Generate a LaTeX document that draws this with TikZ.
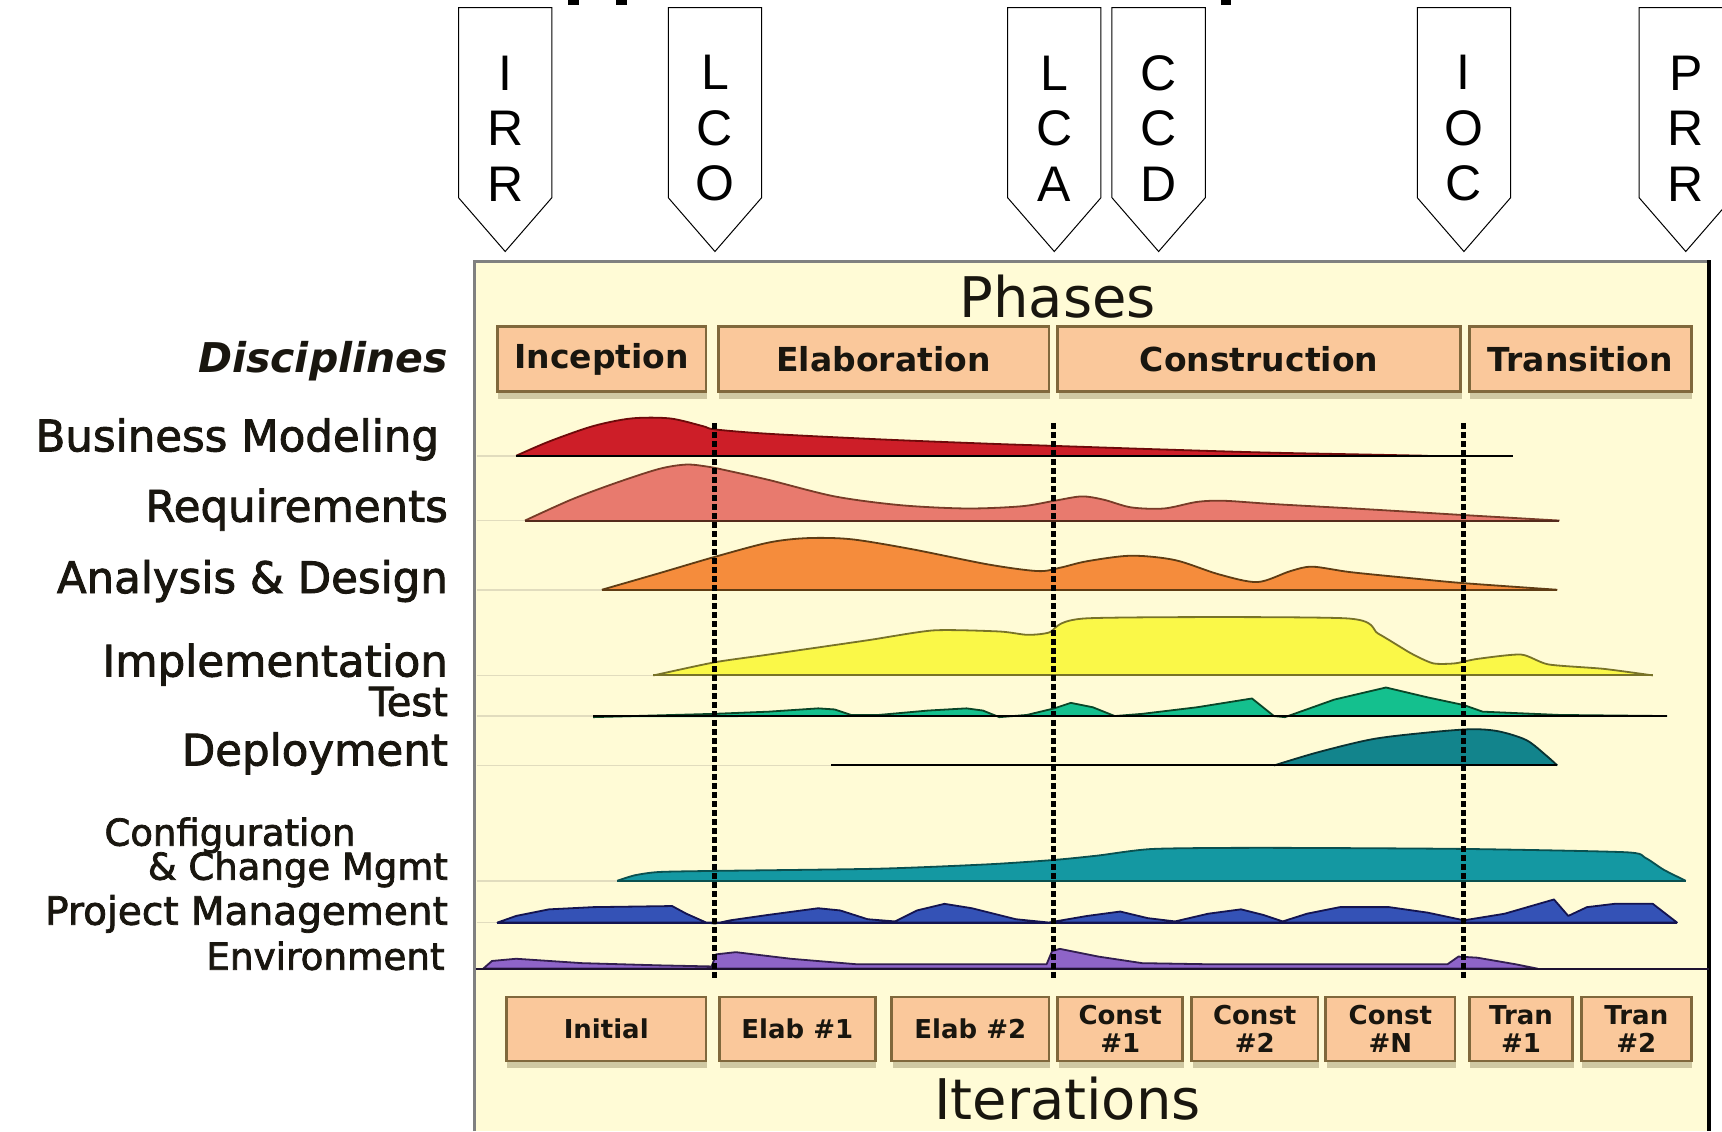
\documentclass[tikz,border=0pt]{standalone}
\usepackage{fontspec}
\setmainfont{DejaVu Sans}
\newfontfamily\flagfont{Liberation Sans}
\newfontfamily\labelfont[FakeBold=2]{DejaVu Sans}
\usetikzlibrary{shadows}

\definecolor{panelbg}{RGB}{255,251,214}
\definecolor{peach}{RGB}{250,200,155}
\definecolor{boxedge}{RGB}{128,104,60}
\definecolor{shadowc}{RGB}{150,140,100}
\definecolor{textdark}{RGB}{25,22,15}
\definecolor{guidec}{RGB}{225,220,190}
\definecolor{bmfill}{RGB}{205,30,40}
\definecolor{bmline}{RGB}{110,10,10}
\definecolor{reqfill}{RGB}{232,122,110}
\definecolor{reqline}{RGB}{120,60,40}
\definecolor{adfill}{RGB}{245,140,60}
\definecolor{adline}{RGB}{95,60,20}
\definecolor{impfill}{RGB}{250,248,72}
\definecolor{impline}{RGB}{120,115,40}
\definecolor{testfill}{RGB}{20,192,142}
\definecolor{testline}{RGB}{10,70,40}
\definecolor{depfill}{RGB}{18,132,140}
\definecolor{depline}{RGB}{10,50,50}
\definecolor{cfgfill}{RGB}{20,152,162}
\definecolor{cfgline}{RGB}{10,80,80}
\definecolor{pmfill}{RGB}{52,82,182}
\definecolor{pmline}{RGB}{20,20,80}
\definecolor{envfill}{RGB}{142,100,200}
\definecolor{envline}{RGB}{50,30,80}

\newcommand\du{1.0982pt}

\tikzset{
  flagline/.style={draw=black, line width=1pt, fill=white},
  flagtext/.style={font=\flagfont\fontsize{50}{55.5}\selectfont, align=center, inner sep=0pt},
  disc/.style={anchor=base east, inner sep=0pt, text=textdark, font=\labelfont\fontsize{43.5}{46}\selectfont},
  phasebox/.style={draw=boxedge, line width=2.6pt, fill=peach,
    drop shadow={shadow xshift=1pt, shadow yshift=-7pt, fill=shadowc, opacity=0.45},
    text=textdark, font=\bfseries\fontsize{33}{36}\selectfont, minimum height=59*\du},
  iterbox/.style={phasebox, font=\bfseries\fontsize{26}{28}\selectfont, align=center, minimum height=58*\du},
  milestone/.style={line width=5pt, dash pattern=on 6pt off 3pt},
  guide/.style={draw=guidec, line width=1.5pt},
  laneline/.style={draw=black, line width=2pt},
  hump/.style={line width=1.8pt, line join=round},
}

% one milestone flag: name, centre x, stacked letters
\newcommand\milestoneflag[3]{%
  \path[flagline] (#2-42.5,7) -- (#2+42.5,7) -- (#2+42.5,180) -- (#2,229) -- (#2-42.5,180) -- cycle;
  \node[flagtext] (#1) at (#2,117) {#3};
}

\begin{document}
\begin{tikzpicture}[x=\du,y=-\du]
\useasboundingbox (0,0) rectangle (1568,1030);
\clip (0,0) rectangle (1568,1030);
\fill[white] (0,0) rectangle (1568,1030);

% remnants of the heading cut off by the top edge
\fill[black] (517,0) rectangle (527,5);
\fill[black] (561,0) rectangle (571,5);
\fill[black] (1112,0) rectangle (1121,5);

% milestone flags
\milestoneflag{irr}{460}{I\\R\\R}
\milestoneflag{lco}{651}{L\\C\\O}
\milestoneflag{lca}{960}{L\\C\\A}
\milestoneflag{ccd}{1055}{C\\C\\D}
\milestoneflag{ioc}{1333}{I\\O\\C}
\milestoneflag{prr}{1535}{P\\R\\R}

% panel
\fill[panelbg] (432,238) rectangle (1556,1030);
\draw[gray, line width=3pt] (432,1030) -- (432,238) -- (1556,238);
\draw[black, line width=3.5pt] (1556,237) -- (1556,1030);

\node[font=\fontsize{56}{60}\selectfont, text=textdark] (phases) at (963,270) {Phases};
\node[font=\fontsize{56}{60}\selectfont, text=textdark] (iterations) at (972,1000) {Iterations};

% phase boxes
\node[phasebox, minimum width=190*\du] (inception) at (548,327) {Inception};
\node[phasebox, minimum width=301*\du] (elaboration) at (804.5,327) {Elaboration};
\node[phasebox, minimum width=367*\du] (construction) at (1146.5,327) {Construction};
\node[phasebox, minimum width=202*\du] (transition) at (1439,327) {Transition};

% iteration boxes
\node[iterbox, minimum width=182*\du] (it1) at (552,937) {Initial};
\node[iterbox, minimum width=142*\du] (it2) at (726,937) {Elab \#1};
\node[iterbox, minimum width=143*\du] (it3) at (883.5,937) {Elab \#2};
\node[iterbox, minimum width=114*\du] (it4) at (1020,937) {Const\\\#1};
\node[iterbox, minimum width=115*\du] (it5) at (1142.5,937) {Const\\\#2};
\node[iterbox, minimum width=118*\du] (it6) at (1266,937) {Const\\\#N};
\node[iterbox, minimum width=94*\du] (it7) at (1385,937) {Tran\\\#1};
\node[iterbox, minimum width=100*\du] (it8) at (1490,937) {Tran\\\#2};

% discipline labels
\node[disc, font=\bfseries\itshape\fontsize{41}{44}\selectfont] (disciplines) at (408,339) {Disciplines};
\node[disc] (bm) at (400,411) {Business Modeling};
\node[disc] (req) at (408,475) {Requirements};
\node[disc] (ad) at (408,540) {Analysis \& Design};
\node[disc] (imp) at (408,616) {Implementation};
\node[disc, font=\labelfont\fontsize{40}{44}\selectfont] (test) at (408,652) {Test};
\node[disc] (dep) at (408,697) {Deployment};
\node[disc, anchor=base west, font=\labelfont\fontsize{37}{40}\selectfont] (cfg1) at (95,770) {Configuration};
\node[disc, font=\labelfont\fontsize{37}{40}\selectfont] (cfg2) at (408,801) {\& Change Mgmt};
\node[disc, font=\labelfont\fontsize{39}{42}\selectfont] (pm) at (408,842) {Project Management};
\node[disc, font=\labelfont\fontsize{37.3}{40}\selectfont] (env) at (405,883) {Environment};

% faint guide lines from the panel edge to each lane
\draw[guide] (434,415) -- (470,415);
\draw[guide] (434,474) -- (478,474);
\draw[guide] (434,537) -- (548,537);
\draw[guide] (434,615) -- (595,615);
\draw[guide] (434,652) -- (540,652);
\draw[guide] (434,697) -- (757,697);
\draw[guide] (434,802) -- (562,802);
\draw[guide] (434,840) -- (453,840);

% Business Modeling
\fill[bmfill] plot[smooth, tension=0.5] coordinates {(470,415) (500,402) (540,388) (575,381) (610,381) (640,388) (651,391) (700,395) (800,400) (900,404) (960,406) (1050,409) (1150,412) (1250,414) (1300,415)} -- cycle;
\draw[hump, bmline] plot[smooth, tension=0.5] coordinates {(470,415) (500,402) (540,388) (575,381) (610,381) (640,388) (651,391) (700,395) (800,400) (900,404) (960,406) (1050,409) (1150,412) (1250,414) (1300,415)};
\coordinate (bmA) at (470,415); \coordinate (bmB) at (1378,415);
\draw[laneline] (bmA) -- (bmB);

% Requirements
\fill[reqfill] plot[smooth, tension=0.5] coordinates {(478,474) (520,455) (560,440) (600,427) (625,423) (645,425) (660,428) (700,437) (760,452) (820,460) (880,463) (930,461) (960,456) (985,452) (1005,455) (1030,462) (1060,463) (1090,457) (1115,456) (1160,459) (1250,464) (1333,469) (1420,474)} -- cycle;
\draw[hump, reqline] plot[smooth, tension=0.5] coordinates {(478,474) (520,455) (560,440) (600,427) (625,423) (645,425) (660,428) (700,437) (760,452) (820,460) (880,463) (930,461) (960,456) (985,452) (1005,455) (1030,462) (1060,463) (1090,457) (1115,456) (1160,459) (1250,464) (1333,469) (1420,474)};
\coordinate (reqA) at (478,474); \coordinate (reqB) at (1420,474);
\draw[laneline, draw=reqline!70!black] (reqA) -- (reqB);

% Analysis & Design
\fill[adfill] plot[smooth, tension=0.5] coordinates {(548,537) (600,522) (651,507) (700,494) (735,490) (775,491) (830,500) (900,514) (945,520) (965,517) (990,511) (1030,506) (1070,510) (1110,523) (1145,530) (1175,520) (1195,516) (1230,521) (1290,527) (1333,531) (1418,537)} -- cycle;
\draw[hump, adline] plot[smooth, tension=0.5] coordinates {(548,537) (600,522) (651,507) (700,494) (735,490) (775,491) (830,500) (900,514) (945,520) (965,517) (990,511) (1030,506) (1070,510) (1110,523) (1145,530) (1175,520) (1195,516) (1230,521) (1290,527) (1333,531) (1418,537)};
\coordinate (adA) at (548,537); \coordinate (adB) at (1418,537);
\draw[laneline, draw=adline] (adA) -- (adB);

% Implementation
\fill[impfill] plot[smooth, tension=0.4] coordinates {(595,615) (651,603) (700,596) (790,583) (850,574) (910,575) (935,578) (955,576) (990,563) (1225,563) (1255,577) (1285,595) (1305,604) (1325,604) (1345,600) (1385,596) (1410,605) (1460,609) (1505,615)} -- cycle;
\draw[hump, impline] plot[smooth, tension=0.4] coordinates {(595,615) (651,603) (700,596) (790,583) (850,574) (910,575) (935,578) (955,576) (990,563) (1225,563) (1255,577) (1285,595) (1305,604) (1325,604) (1345,600) (1385,596) (1410,605) (1460,609) (1505,615)};
\coordinate (impA) at (595,615); \coordinate (impB) at (1505,615);
\draw[laneline, draw=impline] (impA) -- (impB);

% Test
\filldraw[hump, fill=testfill, draw=testline] (540,653) -- (650,650) -- (700,648) -- (745,645) -- (760,646) -- (775,651) -- (800,651) -- (845,647) -- (880,645) -- (895,647) -- (910,653) -- (935,651) -- (960,645) -- (975,640) -- (995,644) -- (1015,652) -- (1040,650) -- (1090,644) -- (1140,636) -- (1160,652) -- (1170,653) -- (1215,637) -- (1262,626) -- (1300,635) -- (1333,642) -- (1350,648) -- (1420,651) -- (1518,652);
\coordinate (testA) at (540,652); \coordinate (testB) at (1518,652);
\draw[laneline] (testA) -- (testB);

% Deployment
\fill[depfill] plot[smooth, tension=0.5] coordinates {(1160,697) (1200,685) (1250,673) (1300,667) (1340,664) (1365,666) (1390,674) (1408,688) (1418,697)} -- cycle;
\draw[hump, depline] plot[smooth, tension=0.5] coordinates {(1160,697) (1200,685) (1250,673) (1300,667) (1340,664) (1365,666) (1390,674) (1408,688) (1418,697)};
\coordinate (depA) at (757,697); \coordinate (depB) at (1418,697);
\draw[laneline] (depA) -- (depB);

% Configuration & Change Management
\fill[cfgfill] plot[smooth, tension=0.4] coordinates {(562,802) (578,797) (600,794) (651,793) (800,791) (900,787) (960,783) (1000,779) (1050,773) (1150,772) (1333,773) (1480,776) (1498,781) (1515,792) (1535,802)} -- cycle;
\draw[hump, cfgline] plot[smooth, tension=0.4] coordinates {(562,802) (578,797) (600,794) (651,793) (800,791) (900,787) (960,783) (1000,779) (1050,773) (1150,772) (1333,773) (1480,776) (1498,781) (1515,792) (1535,802)};
\coordinate (cfgA) at (562,802); \coordinate (cfgB) at (1535,802);
\draw[laneline, draw=cfgline] (cfgA) -- (cfgB);

% Project Management
\filldraw[hump, fill=pmfill, draw=pmline] (453,840) -- (470,834) -- (500,828) -- (540,826) -- (612,825) -- (625,832) -- (643,840) -- (651,841) -- (665,838) -- (700,833) -- (745,827) -- (765,829) -- (790,837) -- (815,839) -- (835,829) -- (860,823) -- (885,827) -- (925,837) -- (955,840) -- (990,834) -- (1020,830) -- (1045,836) -- (1070,839) -- (1100,832) -- (1130,828) -- (1150,833) -- (1168,839) -- (1190,832) -- (1220,826) -- (1265,826) -- (1300,831) -- (1333,838) -- (1370,832) -- (1415,819) -- (1428,834) -- (1445,826) -- (1470,823) -- (1505,823) -- (1527,840) -- cycle;
\coordinate (pmA) at (453,840); \coordinate (pmB) at (1527,840);
\draw[laneline, draw=pmline] (pmA) -- (pmB);

% Environment
\filldraw[hump, fill=envfill, draw=envline] (440,882) -- (448,875) -- (470,873) -- (530,877) -- (600,879) -- (648,880) -- (652,869) -- (670,867) -- (720,873) -- (780,878) -- (953,878) -- (958,866) -- (965,864) -- (1000,871) -- (1040,877) -- (1100,878) -- (1318,878) -- (1328,871) -- (1345,872) -- (1380,878) -- (1400,882) -- cycle;
\coordinate (envA) at (433,882); \coordinate (envB) at (1556,882);
\draw[laneline, draw=envline!60!black] (envA) -- (envB);

% milestone lines
\coordinate (lcoTop) at (651,385); \coordinate (lcoBot) at (651,893);
\coordinate (lcaTop) at (959,385); \coordinate (lcaBot) at (959,893);
\coordinate (iocTop) at (1333,385); \coordinate (iocBot) at (1333,893);
\draw[milestone] (lcoTop) -- (lcoBot);
\draw[milestone] (lcaTop) -- (lcaBot);
\draw[milestone] (iocTop) -- (iocBot);
\end{tikzpicture}
\end{document}
